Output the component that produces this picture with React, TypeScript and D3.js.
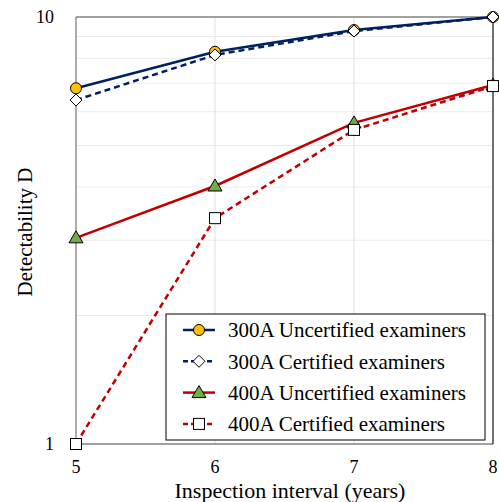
import React from "react";
import * as d3 from "d3";

const xValues = [5, 6, 7, 8];
const xTicks = [5, 6, 7, 8];
const yTicks = [1, 10];
const yMinorGrid = [2, 3, 4, 5, 6, 7, 8, 9];

const seriesNames = [
  "300A Uncertified examiners",
  "300A Certified examiners",
  "400A Uncertified examiners",
  "400A Certified examiners",
];
const s300Uncert = [6.81, 8.29, 9.32, 10];
const s300Cert = [6.39, 8.15, 9.27, 10];
const s400Uncert = [3.04, 4.02, 5.65, 6.93];
const s400Cert = [1.0, 3.38, 5.44, 6.89];

const NAVY = "#002060";
const RED = "#C00000";

type Marker = "circle" | "diamond" | "triangle" | "square";
const seriesStyle: { color: string; dash: string | undefined; marker: Marker; fill: string }[] = [
  { color: NAVY, dash: undefined, marker: "circle", fill: "#FFC000" },
  { color: NAVY, dash: "6,4", marker: "diamond", fill: "#FFFFFF" },
  { color: RED, dash: undefined, marker: "triangle", fill: "#70AD47" },
  { color: RED, dash: "6,4", marker: "square", fill: "#FFFFFF" },
];
const allSeries = [s300Uncert, s300Cert, s400Uncert, s400Cert];

function MarkerShape({ type, x, y, fill }: { type: Marker; x: number; y: number; fill: string }) {
  const common = { fill, stroke: "#000", strokeWidth: 1 };
  if (type === "circle") return <circle cx={x} cy={y} r={5.5} {...common} />;
  if (type === "diamond")
    return <path d={`M${x},${y - 6}L${x + 6},${y}L${x},${y + 6}L${x - 6},${y}Z`} {...common} />;
  if (type === "triangle")
    return <path d={`M${x},${y - 7}L${x + 7},${y + 5}L${x - 7},${y + 5}Z`} {...common} />;
  return <rect x={x - 5.5} y={y - 5.5} width={11} height={11} {...common} />;
}

export default function App() {
  const W = 499, H = 502;
  const left = 76, right = 493, top = 17, bottom = 444;
  const x = d3.scaleLinear().domain([5, 8]).range([left, right]);
  const y = d3.scaleLog().domain([1, 10]).range([bottom, top]);
  const line = d3
    .line<number>()
    .x((_, i) => x(xValues[i]))
    .y((d) => y(d));
  const font = "'Liberation Serif', 'Times New Roman', serif";

  return (
    <svg
      width={W}
      height={H}
      style={{ position: "absolute", left: 0, top: 0, background: "#fff" }}
      fontFamily={font}
    >
      {/* minor horizontal grid */}
      {yMinorGrid.map((v) => (
        <line key={"g" + v} x1={left} x2={right} y1={y(v)} y2={y(v)} stroke="#EBEBEB" strokeWidth={1} />
      ))}
      {/* vertical grid */}
      {xTicks.slice(1, -1).map((v) => (
        <line key={"v" + v} x1={x(v)} x2={x(v)} y1={top} y2={bottom} stroke="#E0E0E0" strokeWidth={1} />
      ))}
      {/* frame */}
      <line x1={left} x2={right} y1={top} y2={top} stroke="#808080" strokeWidth={1.3} />
      <line x1={left} x2={left} y1={top} y2={bottom} stroke="#808080" strokeWidth={1.3} />
      <line x1={left} x2={right} y1={bottom} y2={bottom} stroke="#808080" strokeWidth={1.3} />
      <line x1={right} x2={right} y1={top} y2={bottom} stroke="#222" strokeWidth={1.3} />

      {/* series lines */}
      {allSeries.map((s, i) => (
        <path
          key={"l" + i}
          d={line(s) || ""}
          fill="none"
          stroke={seriesStyle[i].color}
          strokeWidth={2.5}
          strokeDasharray={seriesStyle[i].dash}
        />
      ))}
      {/* markers */}
      {allSeries.map((s, i) =>
        s.map((v, j) => (
          <MarkerShape key={`m${i}-${j}`} type={seriesStyle[i].marker} x={x(xValues[j])} y={y(v)} fill={seriesStyle[i].fill} />
        ))
      )}

      {/* y ticks */}
      {yTicks.map((v) => (
        <text key={"yt" + v} x={54} y={y(v)} dy="0.35em" textAnchor="end" fontSize={18} fill="#000">
          {v}
        </text>
      ))}
      {/* x ticks */}
      {xTicks.map((v) => (
        <text key={"xt" + v} x={x(v)} y={473} textAnchor="middle" fontSize={18} fill="#000">
          {v}
        </text>
      ))}
      <text x={290} y={498} textAnchor="middle" fontSize={22} fill="#000">
        Inspection interval (years)
      </text>
      <text
        transform={`translate(31.5,232) rotate(-90)`}
        textAnchor="middle"
        fontSize={21}
        fill="#000"
      >
        Detectability D
      </text>

      {/* legend */}
      <rect x={166} y={314} width={319} height={126} fill="#fff" stroke="#000" strokeWidth={1} />
      {seriesNames.map((name, i) => {
        const ly = 330 + i * 31.3;
        const st = seriesStyle[i];
        return (
          <g key={"lg" + i}>
            <line x1={183} x2={215} y1={ly} y2={ly} stroke={st.color} strokeWidth={2.5} strokeDasharray={st.dash ? "5,3" : undefined} />
            <MarkerShape type={st.marker} x={199} y={ly} fill={st.fill} />
            <text x={228} y={ly} dy="0.35em" fontSize={21} fill="#000">
              {name}
            </text>
          </g>
        );
      })}
    </svg>
  );
}
